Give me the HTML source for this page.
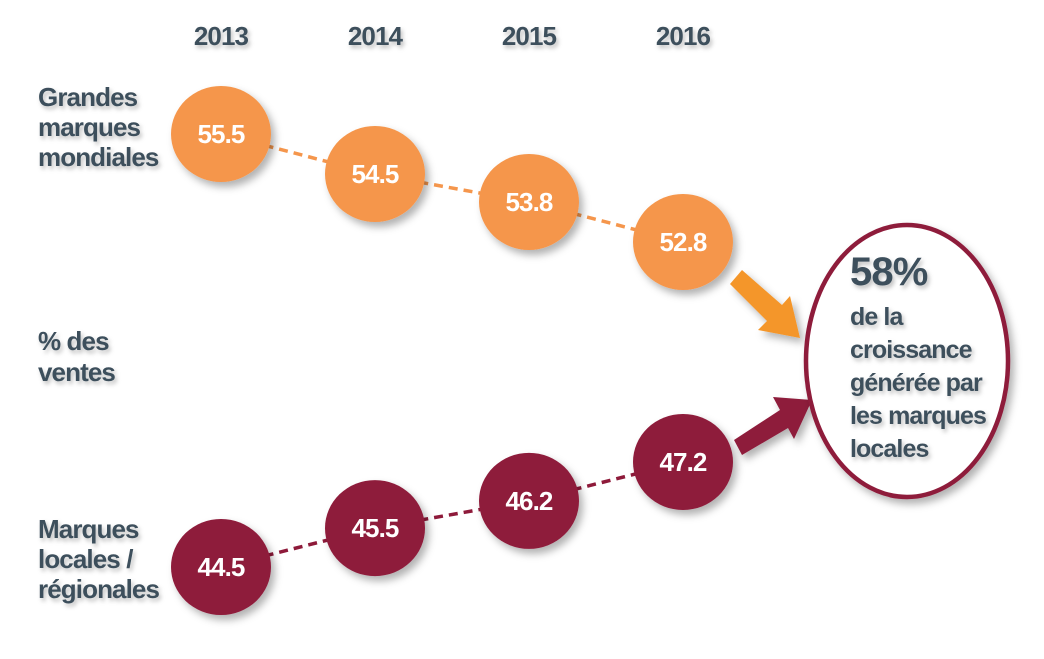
<!DOCTYPE html>
<html><head><meta charset="utf-8"><style>
body{margin:0;background:#fff;}
svg text{font-family:"Liberation Sans Narrow","Liberation Sans",sans-serif;font-weight:bold;letter-spacing:-0.9px;}
</style></head><body>
<svg width="1044" height="654" viewBox="0 0 1044 654">
<defs>
<filter id="sh" x="-30%" y="-30%" width="160%" height="160%"><feDropShadow dx="4" dy="5" stdDeviation="4" flood-color="#000" flood-opacity="0.3"/></filter>
<filter id="ts" x="-10%" y="-10%" width="130%" height="140%"><feDropShadow dx="2" dy="3" stdDeviation="2" flood-color="#000" flood-opacity="0.25"/></filter>
</defs>
<g id="labels" fill="#3D4F5C" font-size="26" filter="url(#ts)">
<text x="38" y="106"><tspan x="38">Grandes</tspan><tspan x="38" dy="30">marques</tspan><tspan x="38" dy="30">mondiales</tspan></text>
<text x="38" y="350"><tspan x="38">% des</tspan><tspan x="38" dy="31">ventes</tspan></text>
<text x="38" y="538"><tspan x="38">Marques</tspan><tspan x="38" dy="30">locales /</tspan><tspan x="38" dy="30">régionales</tspan></text>
</g>
<g id="years"></g>
<g id="marks"></g>
<polygon fill="#F4962A" filter="url(#sh)" points="730,284 742,270 782,305 790,296 800,338 758,330 767,321"/>
<polygon fill="#8E1A3A" filter="url(#sh)" points="734,440 742,455 788,428 794,439 812,400 773,397 780,410"/>
<ellipse cx="907" cy="361" rx="101" ry="136" fill="#fff" stroke="#8E1A3A" stroke-width="4.5" filter="url(#sh)"/>
<g fill="#3D4F5C" filter="url(#ts)">
<text x="850" y="285" font-size="40">58%</text>
<g font-size="25"><text x="850" y="325">de la</text><text x="850" y="358">croissance</text><text x="850" y="391">générée par</text><text x="850" y="424">les marques</text><text x="850" y="457">locales</text></g>
</g>
</svg>
<script>
const years=["2013","2014","2015","2016"];
const globalVals=[55.5,54.5,53.8,52.8];
const localVals=[44.5,45.5,46.2,47.2];
const NS="http://www.w3.org/2000/svg";
function xs(i){return 221+i*154;}
function yG(v){return 134+(55.5-v)*40;}
function yL(v){return 567-(v-44.5)*38.9;}
const yg=document.getElementById('years'),mk=document.getElementById('marks');
function el(t,a,p){const e=document.createElementNS(NS,t);for(const k in a)e.setAttribute(k,a[k]);p.appendChild(e);return e;}
years.forEach((y,i)=>{const t=el('text',{x:xs(i),y:45,'text-anchor':'middle','font-size':26,fill:'#3D4F5C',filter:'url(#ts)'},yg);t.textContent=y;

});
function series(vals,ys,col,name){
 for(let i=0;i<vals.length-1;i++){const l=el('line',{x1:xs(i),y1:ys(vals[i]),x2:xs(i+1),y2:ys(vals[i+1]),stroke:col,'stroke-width':3.5,'stroke-dasharray':'9 6'},mk);
 
 }
 vals.forEach((v,i)=>{const c=el('ellipse',{cx:xs(i),cy:ys(v),rx:50,ry:48,fill:col,filter:'url(#sh)'},mk);
 
 
 const t=el('text',{x:xs(i),y:ys(v)+9,'text-anchor':'middle','font-size':26,fill:'#fff'},mk);t.textContent=v.toFixed(1);
 
 });
}
series(globalVals,yG,'#F5964C','global');
series(localVals,yL,'#8E1A3A','local');
</script>
</body></html>
